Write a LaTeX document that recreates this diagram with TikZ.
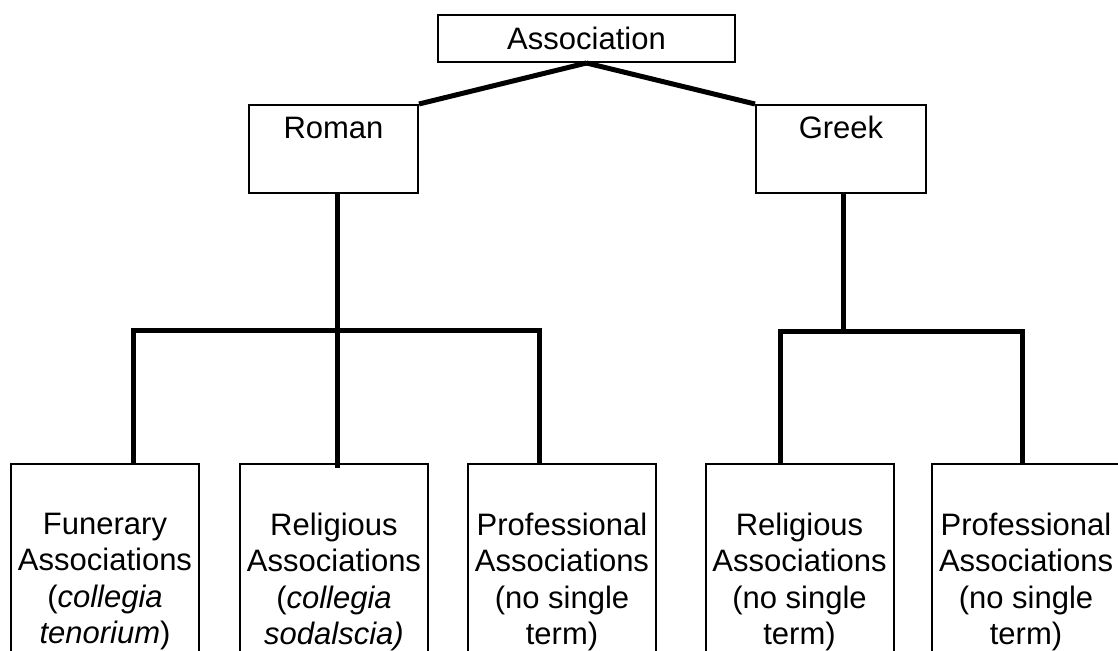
\documentclass[tikz,border=0pt]{standalone}
\usepackage{fontspec}
\setmainfont{Liberation Sans}
\newcommand\leaftext[1]{\parbox[t][260pt][t]{188pt}{\centering #1}}
\begin{document}
\begin{tikzpicture}[x=1pt,y=-1pt,
  every node/.style={font=\fontsize{31}{36.5}\selectfont, line width=2pt, inner sep=0pt},
  topbox/.style={draw, minimum width=297pt, minimum height=47pt},
  midbox/.style={draw, anchor=north, minimum width=169pt, inner xsep=0pt, inner ysep=12pt, text height=22pt, text depth=42pt},
  leafbox/.style={draw, anchor=north, inner xsep=0pt, inner ysep=49pt},
  conn/.style={line width=5pt, line join=miter}]
\useasboundingbox (0,0) rectangle (1118,650);
\clip (0,0) rectangle (1118,650);

\node[topbox] (assoc) at (586.5,38.5) {Association};
\node[midbox] (roman) at (333.5,104) {Roman};
\node[midbox, minimum width=170pt] (greek) at (841,104) {Greek};

\node[leafbox] (fun) at (105,463) {\leaftext{Funerary\\Associations\\(\textit{collegia}\\\textit{tenorium})}};
\node[leafbox] (rrel) at (334,463) {\leaftext{Religious\\Associations\\(\textit{collegia}\\\textit{sodalscia)}}};
\node[leafbox] (rpro) at (562,463) {\leaftext{Professional\\Associations\\(no single\\term)}};
\node[leafbox] (grel) at (799.5,463) {\leaftext{Religious\\Associations\\(no single\\term)}};
\node[leafbox] (gpro) at (1026,463) {\leaftext{Professional\\Associations\\(no single\\term)}};

\draw[conn] (assoc.south) -- (roman.north east);
\draw[conn] (assoc.south) -- (greek.north west);

\coordinate (rj) at (337,330);
\draw[conn] (rj |- roman.south) -- ([yshift=-5pt]rj |- rrel.north);
\draw[conn] ([xshift=28pt]fun.north) |- (rj) -| ([xshift=-23pt]rpro.north);

\draw[conn] ([xshift=2pt]greek.south) -- ++(0,137) coordinate (gj);
\draw[conn] ([xshift=-19.5pt]grel.north) |- (gj) -| ([xshift=-4pt]gpro.north);
\end{tikzpicture}
\end{document}
